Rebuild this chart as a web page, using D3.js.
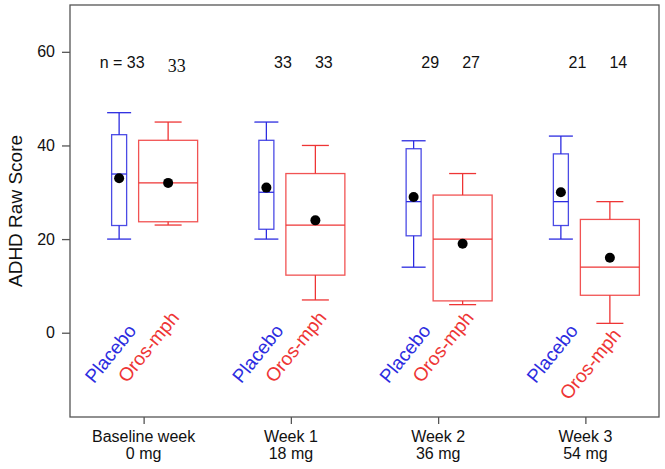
<!DOCTYPE html>
<html>
<head>
<meta charset="utf-8">
<style>
body { margin: 0; background: #fff; }
svg text { font-family: "Liberation Sans", Arial, sans-serif; }
</style>
<script src="https://d3js.org/d3.v7.min.js"></script>
</head>
<body>
<svg width="665" height="469"></svg>
<script>
// the data
var weeks = ["Baseline week", "Week 1", "Week 2", "Week 3"];
var doses = ["0 mg", "18 mg", "36 mg", "54 mg"];

var placeboLow    = [20, 20, 14, 20];
var placeboQ1     = [22.9, 22.1, 20.7, 22.9];
var placeboMedian = [33.9, 30, 28, 28];
var placeboQ3     = [42.3, 41.1, 39.3, 38.2];
var placeboHigh   = [47, 45, 41, 42];
var placeboMean   = [33, 31, 29, 30];
var placeboN      = [33, 33, 29, 21];

var orosLow    = [23, 7, 6, 2];
var orosQ1     = [23.7, 12.3, 6.8, 8];
var orosMedian = [32, 23, 20, 14];
var orosQ3     = [41.1, 34, 29.4, 24.2];
var orosHigh   = [45, 40, 34, 28];
var orosMean   = [32, 24, 19, 16];
var orosN      = [33, 33, 27, 14];

var yTicks = [0, 20, 40, 60];

var svg = d3.select("svg");
// plot frame (note: "top" is taken by window.top)
var fLeft = 70, fRight = 659, fTop = 5, fBottom = 417;

var x = d3.scalePoint().domain(weeks).range([fLeft, fRight]).padding(0.5);
var y = d3.scaleLinear().domain([-18, 70]).range([fBottom, fTop]);

var blue = "#2c2ce0", red = "#ee3535";

// build one row per box
var boxes = [];
weeks.forEach(function(w, i) {
  boxes.push({week: w, i: i, name: "Placebo", color: blue, dx: -24.5, bw: 15, cw: 24,
    low: placeboLow[i], q1: placeboQ1[i], med: placeboMedian[i], q3: placeboQ3[i],
    high: placeboHigh[i], mean: placeboMean[i], n: placeboN[i]});
  boxes.push({week: w, i: i, name: "Oros-mph", color: red, dx: 24.5, bw: 59, cw: 27,
    low: orosLow[i], q1: orosQ1[i], med: orosMedian[i], q3: orosQ3[i],
    high: orosHigh[i], mean: orosMean[i], n: orosN[i]});
});

// frame
svg.append("rect")
    .attr("x", fLeft).attr("y", fTop)
    .attr("width", fRight - fLeft).attr("height", fBottom - fTop)
    .attr("fill", "none").attr("stroke", "#555").attr("stroke-width", 1.3);

// y axis
var yAxis = svg.append("g")
    .attr("transform", "translate(" + fLeft + ",0)")
    .call(d3.axisLeft(y).tickValues(yTicks).tickSize(8).tickPadding(7));
yAxis.select(".domain").remove();
yAxis.selectAll("line").attr("stroke", "#555").attr("stroke-width", 1.3);
yAxis.selectAll("text").attr("font-size", 16).attr("fill", "#111")
    .style("font-family", "Liberation Sans, Arial, sans-serif");

svg.append("text")
    .attr("transform", "translate(22,211) rotate(-90)")
    .attr("text-anchor", "middle")
    .attr("font-size", 19)
    .attr("fill", "#111")
    .text("ADHD Raw Score");

// x axis
var xAxis = svg.append("g")
    .attr("transform", "translate(0," + fBottom + ")")
    .call(d3.axisBottom(x).tickSize(7).tickFormat(""));
xAxis.select(".domain").remove();
xAxis.selectAll("line").attr("stroke", "#555").attr("stroke-width", 1.3);

var xl = svg.append("g").selectAll("text").data(weeks).enter().append("text")
    .attr("x", d => x(d))
    .attr("y", 442)
    .attr("text-anchor", "middle")
    .attr("font-size", 16)
    .attr("fill", "#111");
xl.append("tspan").attr("x", d => x(d)).text(d => d);
xl.append("tspan").attr("x", d => x(d)).attr("dy", 17).text((d, i) => doses[i]);

// boxes
var g = svg.append("g").selectAll("g").data(boxes).enter().append("g")
    .attr("stroke", d => d.color)
    .attr("stroke-width", 1.3)
    .attr("fill", "none");

g.append("line")
    .attr("x1", d => x(d.week) + d.dx).attr("x2", d => x(d.week) + d.dx)
    .attr("y1", d => y(d.high)).attr("y2", d => y(d.q3));
g.append("line")
    .attr("x1", d => x(d.week) + d.dx).attr("x2", d => x(d.week) + d.dx)
    .attr("y1", d => y(d.q1)).attr("y2", d => y(d.low));
g.append("line")
    .attr("x1", d => x(d.week) + d.dx - d.cw / 2).attr("x2", d => x(d.week) + d.dx + d.cw / 2)
    .attr("y1", d => y(d.high)).attr("y2", d => y(d.high));
g.append("line")
    .attr("x1", d => x(d.week) + d.dx - d.cw / 2).attr("x2", d => x(d.week) + d.dx + d.cw / 2)
    .attr("y1", d => y(d.low)).attr("y2", d => y(d.low));
g.append("rect")
    .attr("x", d => x(d.week) + d.dx - d.bw / 2)
    .attr("width", d => d.bw)
    .attr("y", d => y(d.q3))
    .attr("height", d => y(d.q1) - y(d.q3))
    .attr("stroke-opacity", 0.85);
g.append("line")
    .attr("x1", d => x(d.week) + d.dx - d.bw / 2).attr("x2", d => x(d.week) + d.dx + d.bw / 2)
    .attr("y1", d => y(d.med)).attr("y2", d => y(d.med));

// means
svg.append("g").selectAll("circle").data(boxes).enter().append("circle")
    .attr("cx", d => x(d.week) + d.dx)
    .attr("cy", d => y(d.mean))
    .attr("r", 5)
    .attr("fill", "#000");

// n labels
svg.append("g").selectAll("text").data(boxes).enter().append("text")
    .attr("x", d => d.name == "Placebo" ? x(d.week) + 1 : x(d.week) + 33)
    .attr("y", d => d.name == "Oros-mph" && d.i == 0 ? 72 : 68)
    .attr("text-anchor", d => d.name == "Placebo" ? "end" : "middle")
    .attr("font-size", d => d.name == "Oros-mph" && d.i == 0 ? 18 : 16)
    .style("font-family", d => d.name == "Oros-mph" && d.i == 0 ? "Liberation Serif, serif" : null)
    .attr("fill", "#111")
    .text(d => (d.i == 0 && d.name == "Placebo" ? "n = " : "") + d.n);

// rotated group names, sitting under the boxes
svg.append("g").selectAll("text").data(boxes).enter().append("text")
    .attr("transform", function(d) {
      var px, py;
      if (d.name == "Placebo") { px = x(d.week) + d.dx + 18; py = 331; }
      else { px = x(d.week) + d.dx + 12; py = Math.max(318, y(d.low) + 12); }
      return "translate(" + px + "," + py + ") rotate(-51)";
    })
    .attr("text-anchor", "end")
    .attr("font-size", 19)
    .attr("fill", d => d.color)
    .text(d => d.name);
</script>
</body>
</html>
